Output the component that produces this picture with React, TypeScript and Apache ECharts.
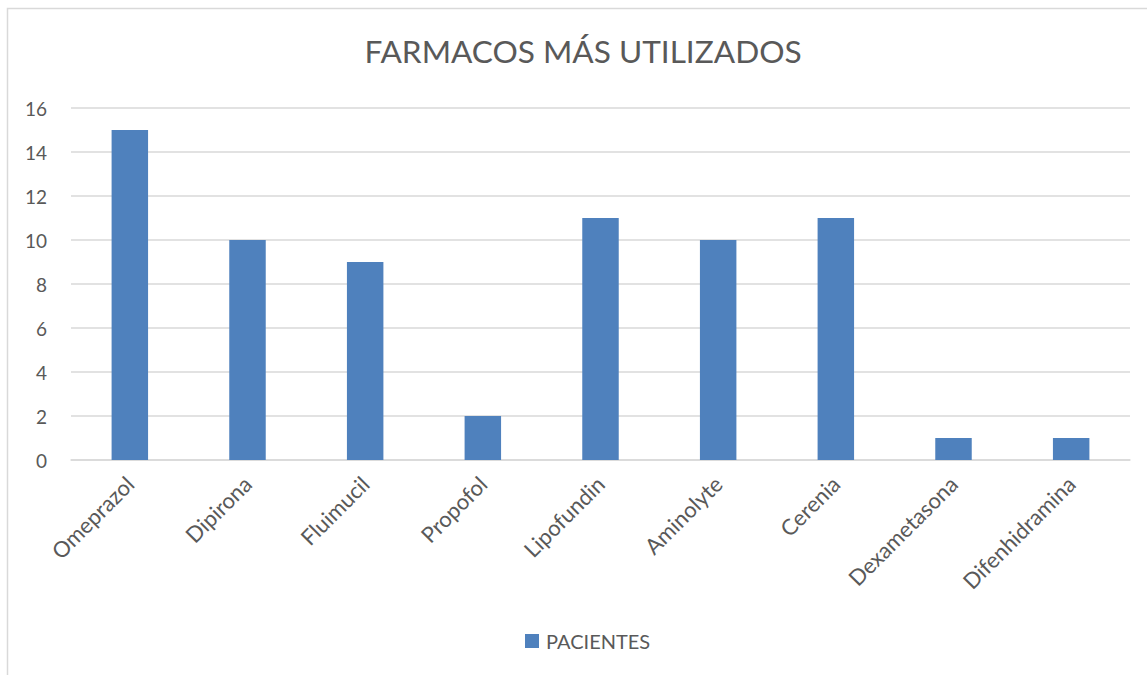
import React, { useEffect, useRef } from "react";
import * as echarts from "echarts";

const categories = [
  "Omeprazol",
  "Dipirona",
  "Fluimucil",
  "Propofol",
  "Lipofundin",
  "Aminolyte",
  "Cerenia",
  "Dexametasona",
  "Difenhidramina",
];
const pacientes = [15, 10, 9, 2, 11, 10, 11, 1, 1];
const seriesName = "PACIENTES";
const titleText = "FARMACOS MÁS UTILIZADOS";

const FONT = "Lato";
const TEXT = "#595959";
const GRID = "#d9d9d9";
const BAR = "#4f81bd";

export default function App() {
  const ref = useRef<HTMLDivElement>(null);
  useEffect(() => {
    if (!ref.current) return;
    const chart = echarts.init(ref.current, undefined, { renderer: "svg" });
    chart.setOption({
      animation: false,
      backgroundColor: "#ffffff",
      textStyle: { fontFamily: FONT, color: TEXT },
      title: {
        text: titleText,
        left: "center",
        top: 30,
        textStyle: { fontFamily: FONT, fontSize: 31.6, fontWeight: "normal", color: TEXT },
      },
      legend: {
        bottom: 19,
        left: 520,
        itemWidth: 14,
        itemHeight: 14,
        itemGap: 20,
        icon: "rect",
        textStyle: { fontFamily: FONT, fontSize: 20, color: TEXT, padding: [0, 0, 0, 2] },
        data: [seriesName],
      },
      graphic: [
        {
          type: "rect",
          shape: { x: 7.5, y: 8.5, width: 1300, height: 800 },
          style: { fill: "none", stroke: GRID, lineWidth: 1.5 },
          silent: true,
        },
      ],
      grid: { left: 71, right: 36, top: 108, bottom: 215, containLabel: false },
      xAxis: {
        type: "category",
        data: categories,
        axisLine: { show: true, lineStyle: { color: GRID, width: 1.5 } },
        axisTick: { show: false },
        axisLabel: {
          rotate: 45,
          interval: 0,
          margin: 20,
          fontFamily: FONT,
          fontSize: 22,
          color: TEXT,
        },
      },
      yAxis: {
        type: "value",
        min: 0,
        max: 16,
        interval: 2,
        axisLine: { show: false },
        axisTick: { show: false },
        splitLine: { lineStyle: { color: GRID, width: 1.5 } },
        axisLabel: { fontFamily: FONT, fontSize: 19, color: TEXT, margin: 24 },
      },
      series: [
        {
          name: seriesName,
          type: "bar",
          data: pacientes,
          barWidth: "31%",
          itemStyle: { color: BAR },
        },
      ],
    });
    return () => chart.dispose();
  }, []);
  return (
    <div style={{ position: "fixed", left: 0, top: 0, width: 1147, height: 675, overflow: "hidden" }}>
      <div ref={ref} style={{ width: 1166, height: 675 }} />
    </div>
  );
}
